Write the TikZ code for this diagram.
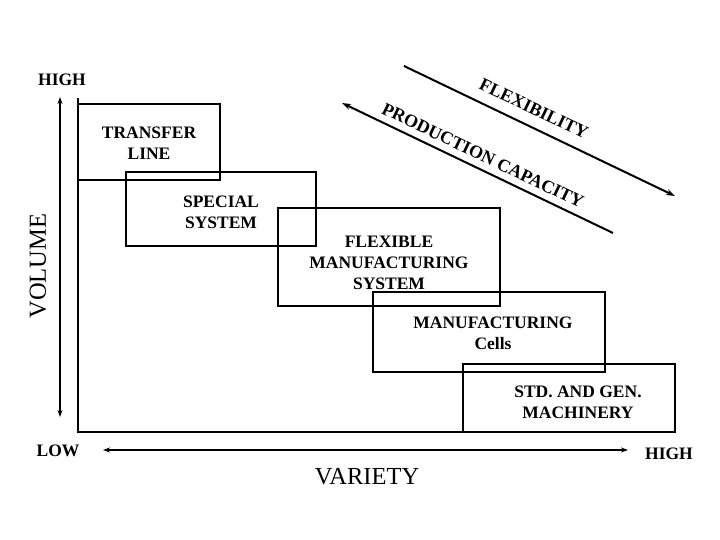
\documentclass[tikz,border=0pt]{standalone}
\usepackage{fontspec}
\setmainfont{Liberation Serif}
\usetikzlibrary{arrows.meta,positioning}

\begin{document}
\begin{tikzpicture}[x=1pt,y=-1pt,
		region/.style={draw, line width=2.2pt, inner sep=0pt},
		regiontext/.style={align=center, inner sep=0pt, font=\bfseries\fontsize{17.5}{21}\selectfont},
		axislabel/.style={font=\bfseries\fontsize{17.5}{21}\selectfont},
		trend/.style={line width=2pt, -{Stealth[length=9pt,width=6pt]}},
		trendlabel/.style={font=\bfseries\fontsize{18}{22}\selectfont, rotate=-25.6},
		rangearrow/.style={line width=1.8pt, {Stealth[length=7pt,width=5pt]}-{Stealth[length=7pt,width=5pt]}}]
		\useasboundingbox (0,0) rectangle (720,540);

		% axes frame
		\coordinate (top) at (78,98);
		\coordinate (origin) at (78,432);
		\coordinate (right) at (675,432);
		\draw[line width=2.2pt] (top) -- (origin) -- (right);

		% regions
		\draw (149,142) node[region, minimum width=142pt, minimum height=76pt](transfer){};
		\draw (221,209) node[region, minimum width=190pt, minimum height=74pt](special){};
		\draw (389,257) node[region, minimum width=222pt, minimum height=98pt](fms){};
		\draw (489,332) node[region, minimum width=232pt, minimum height=80pt](cells){};
		\draw (569,398) node[region, minimum width=212pt, minimum height=68pt](std){};
		\node[regiontext, yshift=-1pt] (transfertext) at (transfer.center) {TRANSFER\\LINE};
		\node[regiontext, yshift=-3pt] (specialtext) at (special.center) {SPECIAL\\SYSTEM};
		\node[regiontext, yshift=-6pt] (fmstext) at (fms.center) {FLEXIBLE\\MANUFACTURING\\SYSTEM};
		\node[regiontext, yshift=-1pt, xshift=4pt] (cellstext) at (cells.center) {MANUFACTURING\\Cells};
		\node[regiontext, yshift=-4pt, xshift=9pt] (stdtext) at (std.center) {STD. AND GEN.\\MACHINERY};

		% volume and variety scales
		\coordinate (vtop) at (60,97);
		\coordinate (vbot) at (60,417);
		\draw[rangearrow] (vtop) -- (vbot);
		\coordinate (hleft) at (103,450);
		\coordinate (hright) at (628,450);
		\draw[rangearrow] (hleft) -- (hright);

		\draw (62,80) node[axislabel](vhigh){HIGH};
		\draw (58,451) node[axislabel](low){LOW};
		\draw (669,454) node[axislabel](hhigh){HIGH};
		\draw (38,266) node[rotate=90, font=\fontsize{24.5}{28}\selectfont](volume){VOLUME};
		\draw (367,477) node[font=\fontsize{24.5}{28}\selectfont](variety){VARIETY};

		% trends
		\coordinate (flexA) at (404,66);
		\coordinate (flexB) at (675,196);
		\draw[trend] (flexA) -- (flexB);
		\coordinate (capA) at (342,103);
		\coordinate (capB) at (613,233);
		\draw[trend] (capB) -- (capA);
		\draw (534,108.5) node[trendlabel](flex){FLEXIBILITY};
		\draw (483,155.5) node[trendlabel](cap){PRODUCTION CAPACITY};
	\end{tikzpicture}
\end{document}
